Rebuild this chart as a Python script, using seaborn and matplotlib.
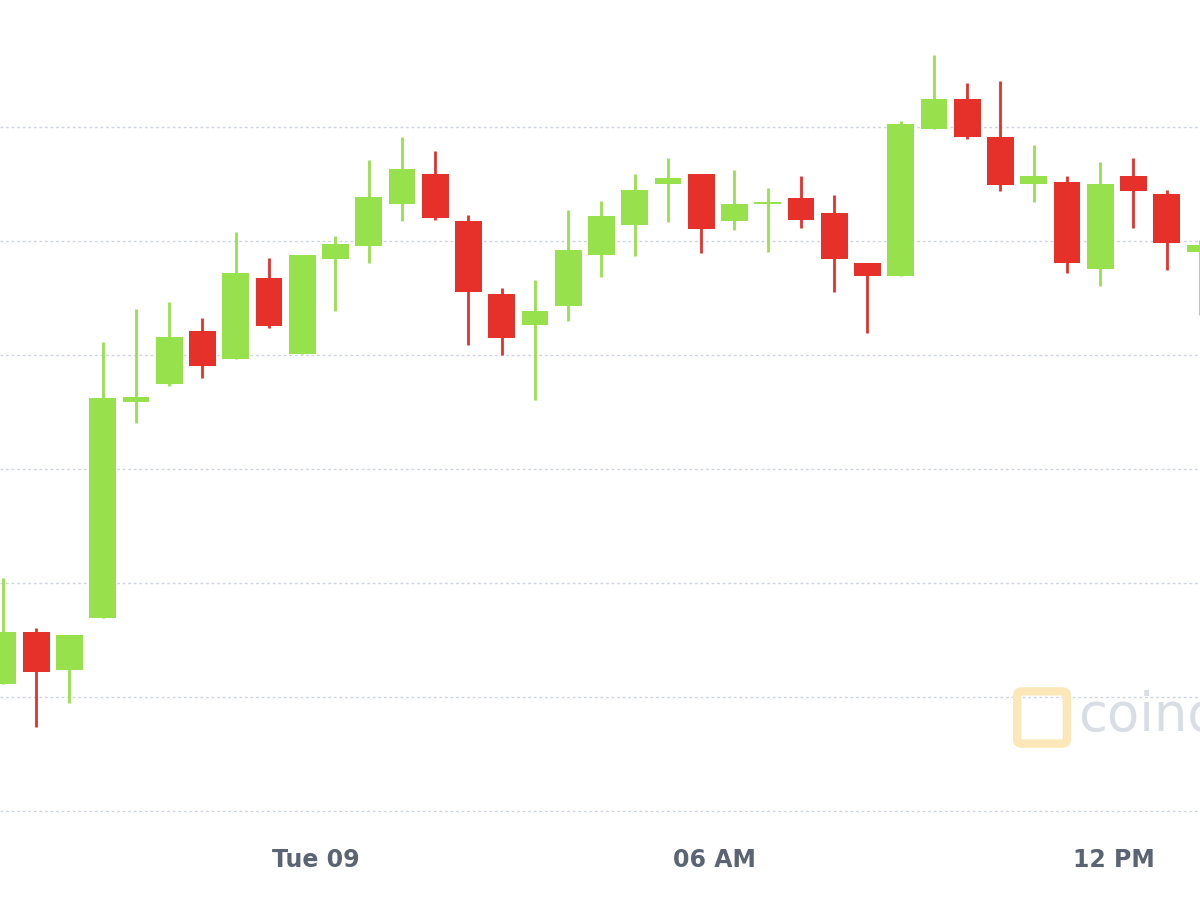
import numpy as np
import matplotlib.pyplot as plt
import seaborn as sns
from matplotlib.patches import FancyBboxPatch

# 30-minute candles, prices in chart units (higher = up)
opens = [216, 268, 230, 282, 498, 516, 569, 541, 622, 546, 641, 654, 696, 726, 679, 606, 575, 594, 645,
         675, 716, 726, 679, 696, 702, 687, 637, 624, 771, 801, 763, 716, 718, 631, 724, 706, 648]
closes = [268, 228, 265, 502, 503, 563, 534, 627, 574, 645, 656, 703, 731, 682, 608, 562, 589, 650, 684,
          710, 722, 671, 696, 698, 680, 641, 624, 776, 801, 763, 715, 724, 637, 716, 709, 657, 655]
highs = [322, 272, 265, 558, 591, 598, 582, 668, 642, 645, 664, 740, 763, 749, 685, 612, 620, 690, 699,
         726, 742, 726, 730, 712, 724, 705, 637, 779, 845, 817, 819, 755, 724, 738, 742, 710, 660]
lows = [216, 173, 197, 282, 477, 514, 522, 541, 572, 546, 589, 637, 679, 680, 555, 545, 500, 579, 623,
        644, 678, 647, 670, 648, 672, 608, 567, 624, 771, 761, 709, 698, 627, 614, 672, 630, 585]
tick_pos = [9.41, 21.41, 33.41]
tick_labels = ["Tue 09", "06 AM", "12 PM"]
grid_levels = [773, 659, 545, 431, 317, 203, 89]

GREEN = "#97e14c"
RED = "#e5312a"

sns.set_style("white")
fig = plt.figure(figsize=(12, 9), dpi=100)
ax = fig.add_axes([0, 1 - 812 / 900, 1, 812 / 900])

x = np.arange(len(opens))
o = np.array(opens); c = np.array(closes)
colors = [GREEN if cc >= oo else RED for oo, cc in zip(o, c)]
bottoms = np.minimum(o, c)
heights = np.maximum(np.abs(c - o), 2)

ax.vlines(x, lows, highs, colors=colors, linewidth=2, zorder=2)
ax.bar(x, heights, bottom=bottoms, width=0.8, color=colors, zorder=3, linewidth=0)

for g in grid_levels:
    ax.axhline(g, color="#cdd5e0", linestyle=(0, (2, 2)), linewidth=1, zorder=1)

ax.set_xlim(-0.09, 36.0)
ax.set_ylim(88, 900)
ax.set_yticks([])
ax.set_xticks(tick_pos)
ax.set_xticklabels(tick_labels, fontsize=17, fontweight="bold", color="#5b6472")
ax.tick_params(axis="x", length=0, pad=26)
for s in ax.spines.values():
    s.set_visible(False)

# watermark
logo = FancyBboxPatch((1022 / 1200, 1 - 740 / 900), 40 / 1200, 45 / 900, boxstyle="round,pad=0.004",
                      transform=fig.transFigure, fill=False, edgecolor="#fbe7b8", linewidth=6)
fig.patches.append(logo)
fig.text(1078 / 1200, 1 - 716 / 900, "coindesk", fontsize=38, color="#d9dee5", va="center", ha="left")

fig.savefig("out.png", dpi=100)
